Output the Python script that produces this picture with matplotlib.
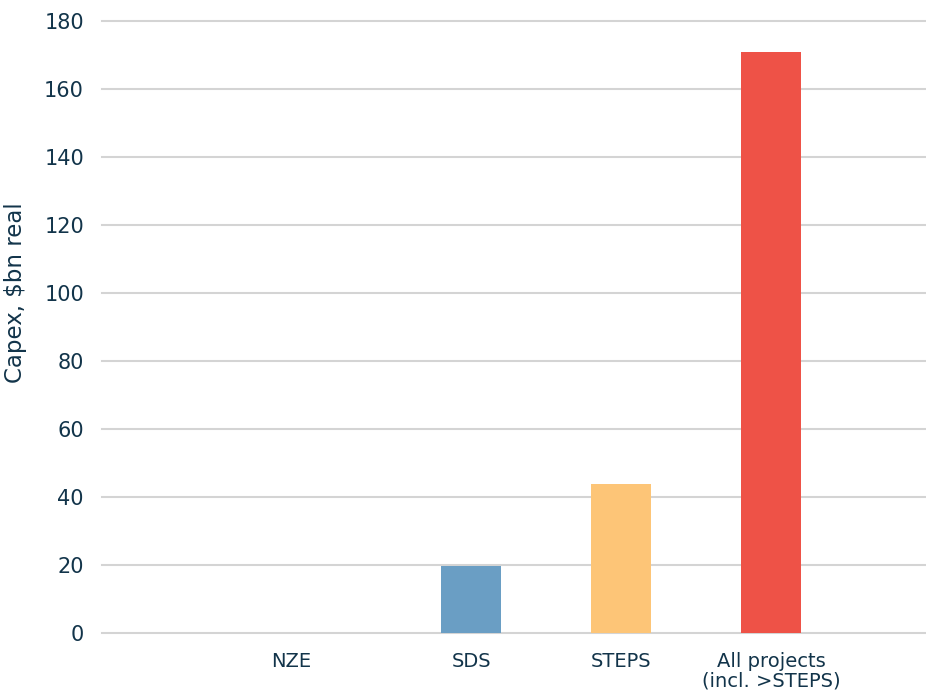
import matplotlib.pyplot as plt
import numpy as np

# data
categories = ['NZE', 'SDS', 'STEPS', 'All projects\n(incl. >STEPS)']
capex      = [0.0, 19.7, 43.8, 170.9]
colours    = ['#6a9ec4', '#6a9ec4', '#fdc577', '#ee5247']
yticks     = list(range(0, 181, 20))

TXT = '#12344a'
xpos = [-1.2, 0, 1, 2]   # NZE sits a bit off the regular spacing in the original

fig = plt.figure(figsize=(9.26, 6.96), dpi=100)
ax = fig.add_axes([102/926, 63/696, 824/926, 612/696])

ax.bar(xpos, capex, width=0.4, color=colours, zorder=3)

ax.set_xlim(-2.46, 3.03)
ax.set_ylim(0, 180)
ax.set_yticks(yticks)
ax.grid(axis='y', color='#d4d4d4', linewidth=1.5, zorder=0)
for gl in ax.get_ygridlines():
    gl.set_clip_on(False)
ax.set_axisbelow(True)
for s in ax.spines.values():
    s.set_visible(False)
ax.tick_params(axis='y', length=0, pad=13, labelsize=15, labelcolor=TXT)
ax.tick_params(axis='x', length=0, pad=14, labelsize=14, labelcolor=TXT)
ax.set_xticks(xpos)
ax.set_xticklabels(categories, va='top', linespacing=1.0)

fig.text(0.017, 0.58, 'Capex, $bn real', rotation=90, ha='center', va='center',
         fontsize=16.5, color=TXT)

fig.savefig('out.png', dpi=100)
